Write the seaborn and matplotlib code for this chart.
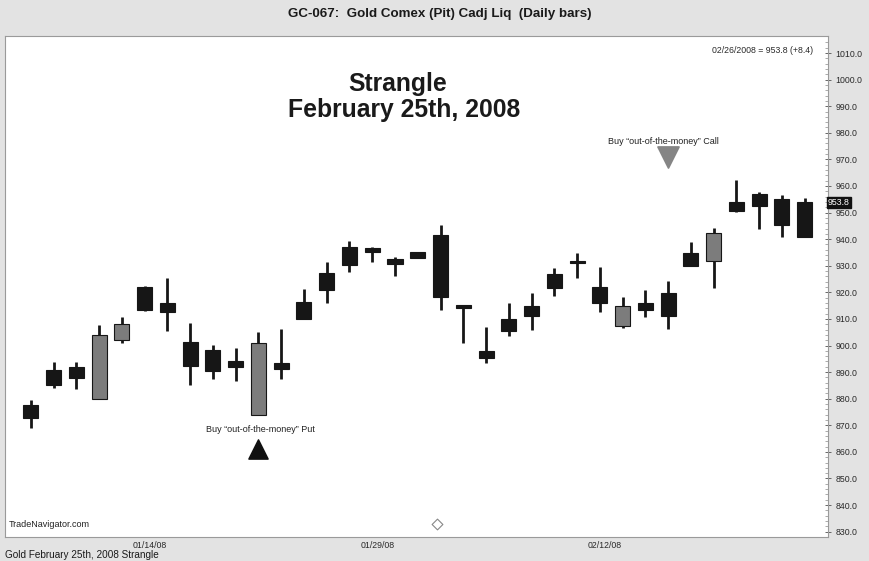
"""
Gold Comex daily candlestick chart with strangle annotations.
"""

import numpy as np
import pandas as pd
import matplotlib
matplotlib.use("Agg")
import matplotlib.pyplot as plt
import matplotlib.transforms as mtransforms
import seaborn as sns

# data
opens = [877.7, 890.8, 892.0, 879.9, 902.1, 922.0, 916.0, 901.4, 898.3, 894.2,
         873.9, 893.5, 916.4, 927.3, 937.1, 936.7, 932.6, 935.2, 941.6, 915.0,
         898.0, 910.0, 914.9, 926.9, 931.8, 922.0, 907.4, 916.0, 919.8, 934.8,
         931.8, 954.0, 957.0, 955.1, 954.0]
highs = [879.5, 893.8, 893.8, 907.7, 910.8, 922.5, 925.4, 908.5, 900.2, 899.1,
         905.1, 906.2, 921.3, 931.4, 939.3, 937.1, 933.3, 935.2, 945.3, 915.2,
         907.0, 916.0, 919.8, 929.2, 934.8, 929.6, 918.3, 920.9, 924.3, 939.0,
         944.2, 962.3, 957.7, 956.6, 955.5]
lows = [869.0, 884.1, 883.7, 879.9, 901.0, 913.0, 905.5, 885.2, 887.4, 886.7,
        873.9, 887.4, 910.0, 916.0, 927.7, 931.4, 926.2, 932.9, 913.4, 900.9,
        893.5, 903.6, 905.9, 918.6, 925.4, 912.6, 906.6, 910.8, 906.2, 929.9,
        921.7, 950.2, 943.8, 940.8, 940.8]
closes = [872.8, 885.2, 887.8, 904.0, 908.1, 913.4, 912.6, 892.3, 890.4, 891.9,
          900.9, 891.2, 910.0, 920.9, 930.3, 935.2, 930.7, 932.9, 918.3, 914.2,
          895.3, 905.5, 911.1, 921.7, 931.0, 916.0, 914.9, 913.4, 911.1, 929.9,
          942.3, 950.6, 952.5, 945.3, 940.8]

date_ticks = [5, 15, 25]
date_labels = ["01/14/08", "01/29/08", "02/12/08"]

put_bar, put_price = 10, 861.0
call_bar, call_price = 28, 971.0
last_price = 953.8

df = pd.DataFrame({"open": opens, "high": highs, "low": lows, "close": closes})
df["bar"] = np.arange(len(df))
df["bottom"] = df[["open", "close"]].min(axis=1)
df["body"] = (df["open"] - df["close"]).abs().clip(lower=0.9)
df["color"] = np.where(df["close"] > df["open"], "#7c7c7c", "#161616")

# plot
sns.set_theme(style="white")
plt.rcParams["font.family"] = ["Liberation Sans", "DejaVu Sans"]

fig = plt.figure(figsize=(8.7, 5.61), dpi=100, facecolor="#e3e3e3")
ax = fig.add_axes([5 / 870, 1 - 537 / 561, 823 / 870, 501 / 561])
ax.set_facecolor("white")

ax.vlines(df["bar"], df["low"], df["high"], color="#161616", linewidth=2.0, zorder=2)
ax.bar(df["bar"], df["body"], bottom=df["bottom"], width=0.66,
       color=df["color"], edgecolor="#161616", linewidth=0.8, zorder=3)

sns.scatterplot(x=[put_bar], y=[put_price], marker="^", s=190, color="#111111",
                edgecolor="#111111", ax=ax, legend=False, zorder=4)
sns.scatterplot(x=[call_bar], y=[call_price], marker="v", s=230, color="#858585",
                edgecolor="#858585", ax=ax, legend=False, zorder=4)

ax.text(put_bar + 0.07, 868.3, "Buy \u201cout-of-the-money\u201d Put",
        ha="center", va="center", fontsize=6.5, color="#222222")
ax.text(call_bar - 0.22, 976.9, "Buy \u201cout-of-the-money\u201d Call",
        ha="center", va="center", fontsize=6.5, color="#222222")

ax.set_xlim(-1.14, 35.03)
ax.set_ylim(828.0, 1016.4)

ax.yaxis.tick_right()
ax.set_yticks(np.arange(830, 1011, 10))
ax.set_yticks(np.arange(828, 1016, 2), minor=True)
ax.set_yticklabels([f"{v:.1f}" for v in np.arange(830, 1011, 10)],
                   fontsize=6.3, color="#2a2a2a")
ax.tick_params(axis="y", which="major", direction="inout", length=5, width=0.7,
               right=True, color="#666666", pad=3)
ax.tick_params(axis="y", which="minor", direction="in", length=2, width=0.5,
               right=True, color="#888888")

ax.set_xticks(date_ticks)
ax.set_xticklabels(date_labels, fontsize=6.3, color="#2a2a2a")
ax.tick_params(axis="x", length=0, pad=3)
shift = mtransforms.ScaledTranslation(5 / 100, 0, fig.dpi_scale_trans)
for lab in ax.get_xticklabels():
    lab.set_transform(lab.get_transform() + shift)

for side in ["top", "left", "right", "bottom"]:
    ax.spines[side].set_color("#9a9a9a")
    ax.spines[side].set_linewidth(0.8)

# price tag on the right axis
ax.text(1.0, last_price, f"{last_price:.1f}", transform=ax.get_yaxis_transform(),
        ha="left", va="center", fontsize=6.3, color="white",
        bbox=dict(boxstyle="square,pad=0.15", facecolor="#111111", edgecolor="#111111"),
        zorder=5, clip_on=False)

ax.text(0.982, 1010.9, "02/26/2008 = 953.8 (+8.4)", transform=ax.get_yaxis_transform(),
        ha="right", va="center", fontsize=6.3, color="#2a2a2a")
ax.text(0.004, 832.6, "TradeNavigator.com", transform=ax.get_yaxis_transform(),
        ha="left", va="center", fontsize=6.5, color="#222222")
ax.scatter([17.85], [833.0], marker="D", s=30, facecolor="white",
           edgecolor="#888888", linewidth=0.8, zorder=4, clip_on=False)

fig.text(398 / 870, 1 - 84 / 561, "Strangle", ha="center", va="center",
         fontsize=17.8, fontweight="bold", color="#1a1a1a")
fig.text(404 / 870, 1 - 110 / 561, "February 25th, 2008", ha="center", va="center",
         fontsize=17.8, fontweight="bold", color="#1a1a1a")

fig.text(440 / 870, 1 - 14 / 561, "GC-067:  Gold Comex (Pit) Cadj Liq  (Daily bars)",
         ha="center", va="center", fontsize=9.6, fontweight="bold", color="#1a1a1a")
fig.text(5 / 870, 1 - 555 / 561, "Gold February 25th, 2008 Strangle",
         ha="left", va="center", fontsize=7.2, color="#1a1a1a")

plt.savefig("out.png", dpi=100, facecolor=fig.get_facecolor())
plt.close()
